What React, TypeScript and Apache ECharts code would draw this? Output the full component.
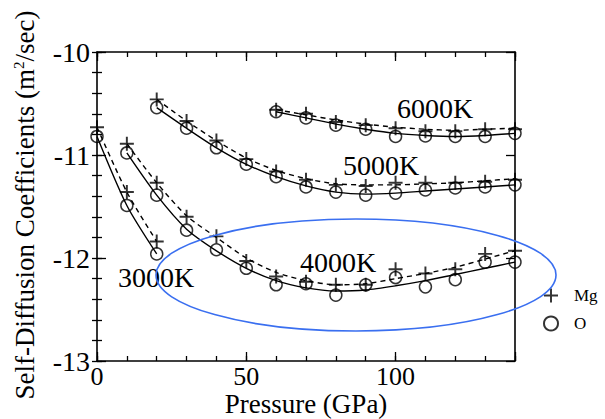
import React, { useEffect, useRef } from "react";
import * as echarts from "echarts";

// Pressures (GPa)
const P3000 = [0, 10, 20];
const P4000 = [10, 20, 30, 40, 50, 60, 70, 80, 90, 100, 110, 120, 130, 140];
const P5000 = [20, 30, 40, 50, 60, 70, 80, 90, 100, 110, 120, 130, 140];
const P6000 = [60, 70, 80, 90, 100, 110, 120, 130, 140];

// log10 self-diffusion coefficients, Mg (+)
const mg3000 = [-10.73, -11.36, -11.84];
const mg4000 = [-10.89, -11.27, -11.6, -11.79, -12.03, -12.18, -12.23, -12.26, -12.26, -12.11, -12.15, -12.11, -11.96, -11.93];
const mg5000 = [-10.46, -10.67, -10.86, -11.04, -11.16, -11.24, -11.29, -11.3, -11.27, -11.27, -11.27, -11.26, -11.24];
const mg6000 = [-10.56, -10.6, -10.68, -10.71, -10.74, -10.77, -10.77, -10.75, -10.75];

// O (circles)
const o3000 = [-10.82, -11.49, -11.96];
const o4000 = [-10.98, -11.39, -11.73, -11.92, -12.1, -12.26, -12.25, -12.36, -12.26, -12.19, -12.28, -12.21, -12.04, -12.04];
const o5000 = [-10.54, -10.74, -10.93, -11.09, -11.21, -11.31, -11.36, -11.39, -11.37, -11.34, -11.32, -11.31, -11.29];
const o6000 = [-10.58, -10.64, -10.71, -10.75, -10.82, -10.815, -10.82, -10.82, -10.79];

// fitted curves
const fitMg4000 = [-10.89, -11.27, -11.59, -11.8, -12.0, -12.14, -12.22, -12.26, -12.25, -12.2, -12.15, -12.09, -12.01, -11.93];
const fitO4000 = [-10.98, -11.39, -11.72, -11.93, -12.1, -12.22, -12.29, -12.32, -12.31, -12.27, -12.22, -12.16, -12.1, -12.04];
const fitMg5000 = [-10.46, -10.67, -10.86, -11.03, -11.15, -11.23, -11.28, -11.29, -11.29, -11.28, -11.27, -11.25, -11.23];
const fitO5000 = [-10.54, -10.74, -10.93, -11.09, -11.21, -11.3, -11.36, -11.38, -11.37, -11.35, -11.33, -11.31, -11.29];
const fitMg6000 = [-10.56, -10.61, -10.66, -10.7, -10.73, -10.75, -10.76, -10.75, -10.74];
const fitO6000 = [-10.58, -10.64, -10.7, -10.75, -10.79, -10.81, -10.82, -10.81, -10.79];

const temperatureLabels = ["6000K", "5000K", "4000K", "3000K"];
const xTickLabels = [0, 50, 100];
const yTickLabels = [-13, -12, -11, -10];

const FAMILY = "Liberation Serif";
const PLUS = "path://M4.3,0 H5.7 V4.3 H10 V5.7 H5.7 V10 H4.3 V5.7 H0 V4.3 H4.3 Z";

const zip = (xs: number[], ys: number[]) => xs.map((x, i) => [x, ys[i]]);

function fitLine(name: string, xs: number[], ys: number[], dashed: boolean) {
  return {
    name,
    type: "line",
    data: zip(xs, ys),
    showSymbol: false,
    smooth: 0.25,
    lineStyle: { color: "#000", width: 1.4, type: dashed ? [5, 4] : "solid" },
    z: 2,
    silent: true,
  };
}

function label(text: string, x: number, y: number, extra: any = {}) {
  return {
    type: "text",
    x,
    y,
    style: { text, fontFamily: FAMILY, fontSize: 28, fill: "#000", verticalAlign: "middle", lineHeight: 24, ...extra },
  };
}

export default function App() {
  const ref = useRef<HTMLDivElement>(null);
  useEffect(() => {
    document.body.style.margin = "0";
    if (!ref.current) return;
    const chart = echarts.init(ref.current, undefined, { renderer: "svg" });
    const tickCommon = (len: number) => ({
      show: true,
      inside: true,
      length: len,
      lineStyle: { color: "#000", width: 1.3 },
    });
    const xBase = { type: "value", min: 0, max: 140, splitLine: { show: false } };
    const yBase = { type: "value", min: -13, max: -10, splitLine: { show: false } };
    const hiddenLabel = { show: false };
    const axisLine = { show: true, onZero: false, lineStyle: { color: "#000", width: 1.6 } };
    const noLine = { show: false };

    chart.setOption({
      animation: false,
      backgroundColor: "#fff",
      grid: { left: 97, right: 90, top: 52, bottom: 58 },
      xAxis: [
        {
          ...xBase,
          position: "bottom",
          interval: 50,
          axisLine,
          axisTick: tickCommon(9),
          axisLabel: {
            margin: 5,
            color: "#000",
            fontFamily: FAMILY,
            fontSize: 26,
            lineHeight: 20,
            formatter: (v: number) => (xTickLabels.includes(v) ? String(v) : ""),
          },
        },
        { ...xBase, position: "bottom", interval: 10, axisLine: noLine, axisTick: tickCommon(5), axisLabel: hiddenLabel },
        { ...xBase, position: "top", interval: 50, axisLine, axisTick: tickCommon(9), axisLabel: hiddenLabel },
        { ...xBase, position: "top", interval: 10, axisLine: noLine, axisTick: tickCommon(5), axisLabel: hiddenLabel },
      ],
      yAxis: [
        {
          ...yBase,
          position: "left",
          interval: 1,
          axisLine,
          axisTick: tickCommon(9),
          axisLabel: {
            margin: 7,
            color: "#000",
            fontFamily: FAMILY,
            fontSize: 28,
            lineHeight: 20,
            formatter: (v: number) => (yTickLabels.includes(Math.round(v)) ? String(Math.round(v)) : ""),
          },
        },
        { ...yBase, position: "left", interval: 0.2, axisLine: noLine, axisTick: tickCommon(5), axisLabel: hiddenLabel },
        { ...yBase, position: "right", interval: 1, axisLine, axisTick: tickCommon(9), axisLabel: hiddenLabel },
        { ...yBase, position: "right", interval: 0.2, axisLine: noLine, axisTick: tickCommon(5), axisLabel: hiddenLabel },
      ],
      legend: {
        data: ["Mg", "O"],
        orient: "vertical",
        left: 538,
        top: 282,
        itemGap: 11,
        itemWidth: 14,
        itemHeight: 14,
        textStyle: { fontFamily: FAMILY, fontSize: 17, color: "#000", padding: [0, 0, 0, 11] },
      },
      series: [
        fitLine("3000K Mg", P3000, mg3000, true),
        fitLine("3000K O", P3000, o3000, false),
        fitLine("4000K Mg", P4000, fitMg4000, true),
        fitLine("4000K O", P4000, fitO4000, false),
        fitLine("5000K Mg", P5000, fitMg5000, true),
        fitLine("5000K O", P5000, fitO5000, false),
        fitLine("6000K Mg", P6000, fitMg6000, true),
        fitLine("6000K O", P6000, fitO6000, false),
        {
          name: "Mg",
          type: "scatter",
          symbol: PLUS,
          symbolSize: 14,
          itemStyle: { color: "#000" },
          data: [...zip(P3000, mg3000), ...zip(P4000, mg4000), ...zip(P5000, mg5000), ...zip(P6000, mg6000)],
          z: 4,
        },
        {
          name: "O",
          type: "scatter",
          symbol: "circle",
          symbolSize: 12,
          itemStyle: { color: "rgba(0,0,0,0)", borderColor: "#000", borderWidth: 1.5 },
          data: [...zip(P3000, o3000), ...zip(P4000, o4000), ...zip(P5000, o5000), ...zip(P6000, o6000)],
          z: 3,
        },
      ],
      graphic: [
        {
          type: "text",
          x: 25,
          y: 205,
          rotation: Math.PI / 2,
          style: {
            text: "Self-Diffusion Coefficients (m{sup|2}/sec)",
            fontFamily: FAMILY,
            fontSize: 27,
            fill: "#000",
            align: "center",
            verticalAlign: "middle",
            rich: {
              sup: { fontSize: 15, fontFamily: FAMILY, fill: "#000", verticalAlign: "top", padding: [0, 0, 12, 0] },
            },
          },
        },
        label("Pressure (GPa)", 306, 404, { align: "center", fontSize: 27, lineHeight: 22 }),
        label(temperatureLabels[0], 397, 108),
        label(temperatureLabels[1], 343, 165),
        label(temperatureLabels[2], 300, 262),
        label(temperatureLabels[3], 118, 277),
        {
          type: "ellipse",
          shape: { cx: 356, cy: 275, rx: 200, ry: 56 },
          style: { fill: "none", stroke: "#3a6ff0", lineWidth: 1.6 },
          z: 10,
          silent: true,
        },
      ],
    });
    return () => chart.dispose();
  }, []);
  return <div ref={ref} style={{ width: 605, height: 419 }} />;
}
